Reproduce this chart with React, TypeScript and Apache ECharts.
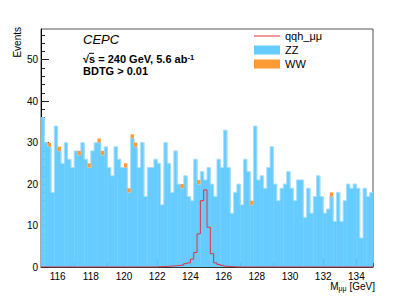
import React, { useEffect, useRef } from "react";
import * as echarts from "echarts";

const BIN_LO = 115;
const BIN_W = 0.2;
const X_MIN = 115;
const X_MAX = 135;
const Y_MAX = 57.4;

// ZZ (blue) per bin
const zz = [
  36, 30, 29, 18, 34, 28, 25, 30, 26, 24,
  28, 27, 30, 26, 24, 28, 30, 30, 27, 29,
  24, 22, 29, 26, 24, 24, 18, 31, 29, 24,
  30, 17, 24, 24, 26, 25, 15, 30, 25, 18,
  28, 20, 19, 22, 17, 16, 26, 20, 23, 21,
  24, 20, 17, 26, 24, 33, 24, 13, 18, 20,
  15, 26, 23, 15, 34, 21, 22, 19, 24, 29,
  20, 16, 19, 20, 23, 19, 16, 21, 21, 12,
  19, 13, 17, 22, 17, 13, 14, 17, 11, 18,
  11, 16, 20, 19, 20, 19, 7, 19, 17, 18,
];

// WW (orange) per bin, stacked on ZZ
const ww = [
  0, 0, 1, 0, 0, 1, 0, 0, 0, 0,
  0, 1, 0, 0, 1, 0, 0, 1, 1, 0,
  0, 0, 0, 0, 0, 1, 1, 1, 1, 0,
  0, 0, 0, 0, 0, 0, 0, 0, 0, 0,
  0, 0, 1, 0, 0, 0, 0, 1, 0, 0,
  0, 0, 0, 0, 0, 0, 0, 0, 0, 0,
  0, 0, 0, 1, 0, 0, 0, 0, 0, 0,
  0, 0, 0, 0, 0, 0, 0, 0, 0, 0,
  0, 0, 0, 0, 0, 0, 0, 1, 0, 0,
  0, 0, 0, 0, 0, 0, 0, 0, 0, 0,
];

// qqh_μμ signal per bin (drawn as outline)
const qqh = [
  0, 0, 0, 0, 0, 0, 0, 0, 0, 0,
  0, 0, 0, 0, 0, 0, 0, 0, 0, 0,
  0, 0, 0, 0, 0, 0, 0, 0, 0, 0,
  0, 0, 0, 0, 0, 0.1, 0.1, 0.15, 0.2, 0.25,
  0.3, 0.4, 0.5, 0.8, 1.0, 1.9, 3.5, 8.0, 16.0, 18.6,
  9.6, 3.2, 1.0, 0.6, 0.4, 0.2, 0.1, 0.1, 0, 0,
  0, 0, 0, 0, 0, 0, 0, 0, 0, 0,
  0, 0, 0, 0, 0, 0, 0, 0, 0, 0,
  0, 0, 0, 0, 0, 0, 0, 0, 0, 0,
  0, 0, 0, 0, 0, 0, 0, 0, 0, 0,
];

const xLabels = [116, 118, 120, 122, 124, 126, 128, 130, 132, 134];
const xMinorTicks: number[] = [];
for (let t = 115; t <= 135.001; t += 0.5) xMinorTicks.push(Math.round(t * 10) / 10);
const yLabels = [0, 10, 20, 30, 40, 50];
const yMinorTicks: number[] = [];
for (let t = 0; t <= 56; t += 2) yMinorTicks.push(t);

const FONT = "'Liberation Sans', Arial, Helvetica, sans-serif";

export default function App() {
  const ref = useRef<HTMLDivElement>(null);
  useEffect(() => {
    if (!ref.current) return;
    const chart = echarts.init(ref.current, undefined, { renderer: "svg" });
    const edge = (i: number) => Math.round((BIN_LO + BIN_W * i) * 1000) / 1000;
    const zzRects = zz.map((v, i) => [edge(i), edge(i + 1), 0, v]);
    const wwRects = ww
      .map((v, i) => [edge(i), edge(i + 1), zz[i], zz[i] + v, v])
      .filter((d) => d[4] > 0);
    const zzOutline = zz.map((v, i) => [edge(i), v]).concat([[X_MAX, zz[zz.length - 1]]]);
    const qqhLine = qqh.map((v, i) => [edge(i), v]).concat([[X_MAX, qqh[qqh.length - 1]]]);

    const rectRender = (color: string, overlap: number) => (params: any, api: any) => {
      const p0 = api.coord([api.value(0), api.value(3)]);
      const p1 = api.coord([api.value(1), api.value(2)]);
      return {
        type: "rect",
        shape: {
          x: p0[0],
          y: p0[1],
          width: p1[0] - p0[0] + overlap,
          height: p1[1] - p0[1],
        },
        style: { fill: color },
      };
    };

    const option: any = {
      animation: false,
      backgroundColor: "#ffffff",
      textStyle: { fontFamily: FONT },
      grid: {
        left: 41,
        top: 29,
        width: 332,
        height: 238,
        show: true,
        borderColor: "#555555",
        borderWidth: 1,
        backgroundColor: "transparent",
      },
      legend: {
        orient: "vertical",
        left: 254,
        top: 30.5,
        padding: 0,
        itemWidth: 26,
        itemHeight: 9,
        itemGap: 3,
        textStyle: { fontSize: 11, color: "#000", fontFamily: FONT },
        data: [
          { name: "qqh_μμ", icon: "path://M0,0 L26,0 L26,1 L0,1 Z" },
          { name: "ZZ", icon: "rect" },
          { name: "WW", icon: "rect" },
        ],
      },
      xAxis: [
        {
          type: "value",
          min: X_MIN,
          max: X_MAX,
          axisLine: { show: true, lineStyle: { color: "#333", width: 1 } },
          axisTick: {
            show: true,
            inside: true,
            length: 4,
            customValues: xMinorTicks,
            lineStyle: { color: "#222" },
          },
          axisLabel: {
            customValues: xLabels,
            fontSize: 10,
            color: "#000",
            margin: 4,
            fontFamily: FONT,
          },
          splitLine: { show: false },
        },
        {
          type: "value",
          min: X_MIN,
          max: X_MAX,
          position: "bottom",
          axisLine: { show: false },
          axisTick: {
            show: true,
            inside: true,
            length: 8,
            customValues: xLabels,
            lineStyle: { color: "#222" },
          },
          axisLabel: { show: false },
          splitLine: { show: false },
        },
      ],
      yAxis: [
        {
          type: "value",
          min: 0,
          max: Y_MAX,
          axisLine: { show: true, lineStyle: { color: "#000", width: 1 } },
          axisTick: {
            show: true,
            inside: true,
            length: 8,
            customValues: yLabels,
            lineStyle: { color: "#222" },
          },
          axisLabel: {
            customValues: yLabels,
            fontSize: 10,
            color: "#000",
            margin: 3,
            fontFamily: FONT,
          },
          splitLine: { show: false },
        },
        {
          type: "value",
          min: 0,
          max: Y_MAX,
          position: "left",
          axisLine: { show: false },
          axisTick: {
            show: true,
            inside: true,
            length: 4,
            customValues: yMinorTicks,
            lineStyle: { color: "#222" },
          },
          axisLabel: { show: false },
          splitLine: { show: false },
        },
      ],
      series: [
        {
          name: "ZZ",
          type: "custom",
          z: 2,
          itemStyle: { color: "#66ccff" },
          renderItem: rectRender("#66ccff", 0.4),
          encode: { x: [0, 1], y: [2, 3] },
          data: zzRects,
        },
        {
          name: "zzOutline",
          type: "line",
          z: 3,
          step: "end",
          symbol: "none",
          lineStyle: { color: "#a9dfff", width: 1 },
          data: zzOutline,
          silent: true,
        },
        {
          name: "WW",
          type: "custom",
          z: 4,
          itemStyle: { color: "#ff9933" },
          renderItem: rectRender("#ff9933", 0),
          encode: { x: [0, 1], y: [2, 3] },
          data: wwRects,
        },
        {
          name: "qqh_μμ",
          type: "line",
          z: 5,
          step: "end",
          symbol: "none",
          color: "#e3323c",
          itemStyle: { color: "#e3323c" },
          lineStyle: { color: "#e3323c", width: 1 },
          data: qqhLine,
        },
      ],
      graphic: [
        {
          type: "text",
          x: 83,
          y: 39.5,
          style: {
            text: "CEPC",
            font: `italic 13px ${FONT}`,
            fill: "#000",
            textVerticalAlign: "middle",
          },
        },
        {
          type: "text",
          x: 83,
          y: 58.5,
          style: {
            text: "{b|√s = 240 GeV, 5.6 ab}{sup|-1}",
            fill: "#000",
            textVerticalAlign: "middle",
            rich: {
              b: { fontSize: 11, fontWeight: "bold", fontFamily: FONT, fill: "#000" },
              sup: {
                fontSize: 7.5,
                fontWeight: "bold",
                fontFamily: FONT,
                verticalAlign: "top",
                fill: "#000",
              },
            },
          },
        },
        {
          type: "line",
          shape: { x1: 89, y1: 53.3, x2: 94, y2: 53.3 },
          style: { stroke: "#000", lineWidth: 1 },
        },
        {
          type: "text",
          x: 83,
          y: 70.5,
          style: {
            text: "BDTG > 0.01",
            font: `bold 11px ${FONT}`,
            fill: "#000",
            textVerticalAlign: "middle",
          },
        },
        {
          type: "text",
          x: 17,
          y: 27,
          rotation: Math.PI / 2,
          style: {
            text: "Events",
            font: `10px ${FONT}`,
            fill: "#000",
            textAlign: "right",
            textVerticalAlign: "middle",
          },
        },
        {
          type: "text",
          x: 375,
          y: 286,
          style: {
            text: "{m|M}{s|μμ}{m| [GeV]}",
            textAlign: "right",
            textVerticalAlign: "middle",
            fill: "#000",
            rich: {
              m: { fontSize: 10, fontFamily: FONT, fill: "#000" },
              s: { fontSize: 7, fontFamily: FONT, fill: "#000", verticalAlign: "bottom", padding: [4, 0, 0, 0] },
            },
          },
        },
      ],
    };
    chart.setOption(option);
    return () => chart.dispose();
  }, []);
  return (
    <div
      ref={ref}
      style={{ position: "absolute", left: 0, top: 0, width: 415, height: 298, background: "#fff" }}
    />
  );
}
